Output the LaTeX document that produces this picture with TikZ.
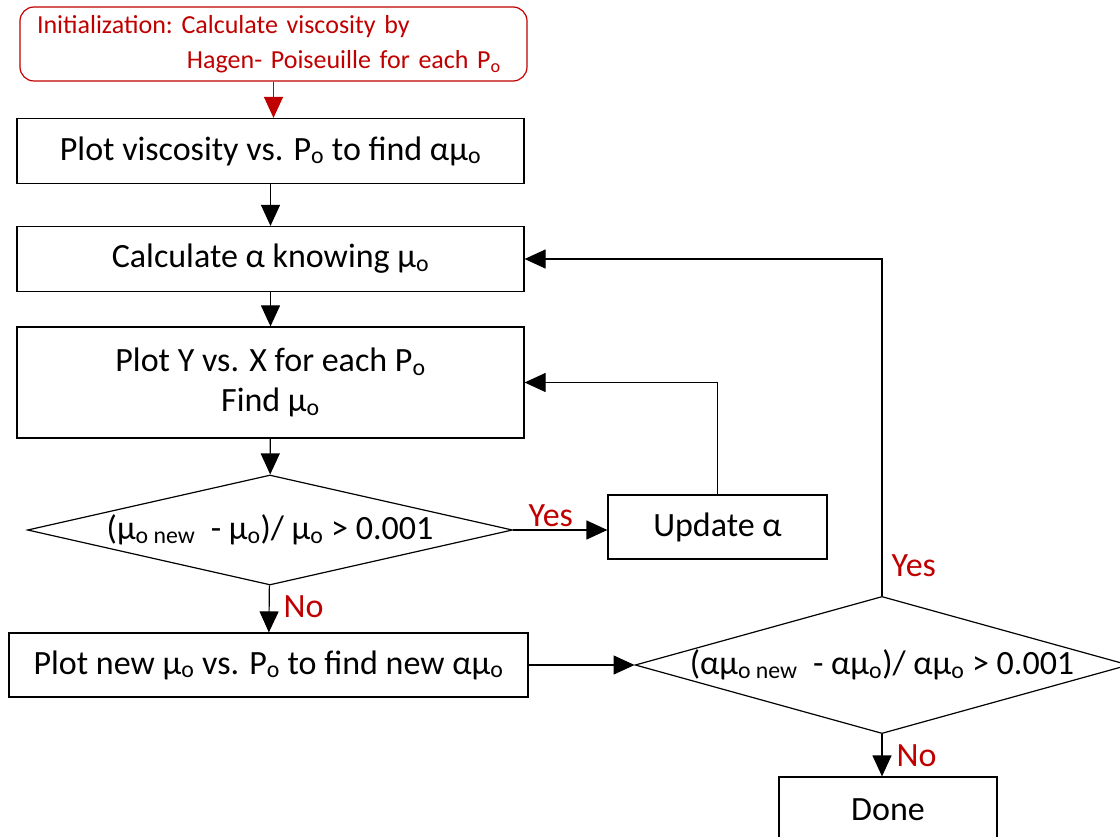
\documentclass[tikz,border=0pt]{standalone}
\usepackage{fontspec}
\setmainfont{Carlito}
\usetikzlibrary{arrows.meta,positioning,shapes.geometric}
\tikzset{>={Triangle[length=21pt,width=19pt]}}
\definecolor{flowred}{RGB}{192,0,0}

\begin{document}
\begin{tikzpicture}[x=1pt, y=-1pt, line width=1.2pt,
    box/.style={draw, align=center, inner sep=0pt, minimum width=507pt, minimum height=65pt,
      font=\fontsize{34}{40}\selectfont},
    initbox/.style={draw=flowred, text=flowred, rounded corners=14pt, align=left,
      text width=473pt, inner xsep=17pt, inner ysep=0pt, minimum height=74pt,
      font=\fontsize{26}{35}\selectfont\frenchspacing},
    decision/.style={draw, diamond, inner sep=0pt, font=\fontsize{34}{40}\selectfont},
    lbl/.style={text=flowred, font=\fontsize{34}{38}\selectfont}
  ]
    \useasboundingbox (0,0) rectangle (1120,837);

    % main column
    \node[initbox] (init) at (273.5,44) {Initialization: Calculate viscosity by\\
      \hspace*{150pt}\mbox{Hagen- Poiseuille for each P\textsubscript{o}}};
    \node[box] (plot) at (270.5,151) {Plot viscosity vs. P\textsubscript{o} to find αμ\textsubscript{o}};
    \node[box] (calc) at (270.5,259) {Calculate α knowing μ\textsubscript{o}};
    \node[box, minimum height=111pt] (fit) at (270.5,382.5) {Plot Y vs. X for each P\textsubscript{o}\\ Find μ\textsubscript{o}};
    \node[decision, aspect=4.4, minimum width=485pt, minimum height=110pt] (check) at (270,530)
      {(μ\textsubscript{o new} \ - μ\textsubscript{o})/ μ\textsubscript{o} > 0.001};
    \node[box, minimum width=219pt, minimum height=64pt] (update) at (717.5,527) {Update α};
    \node[box, minimum width=519pt, minimum height=64pt] (replot) at (268.5,665)
      {Plot new μ\textsubscript{o} vs. P\textsubscript{o} to find new αμ\textsubscript{o}};
    \node[decision, aspect=3.6, minimum width=488pt, minimum height=134pt] (final) at (882,665)
      {(αμ\textsubscript{o new} \ - αμ\textsubscript{o})/ αμ\textsubscript{o} > 0.001};
    \node[box, minimum width=218pt, minimum height=66pt] (done) at (888,810) {Done};

    % connectors
    \draw[->, draw=flowred, fill=flowred] (init) -- (init |- plot.north);
    \draw[->] (plot) -- (calc);
    \draw[->] (calc) -- (fit);
    \draw[->] (fit) -- (check);
    \draw[->] (check.east) -- node[lbl, above, pos=0.4, inner ysep=3pt] {Yes} (check.east -| update.west);
    \draw[->] (update.north) |- (fit.east);
    \draw[->] (check) -- node[lbl, right, inner xsep=14pt, yshift=2pt] {No} (replot);
    \draw[->] (replot.east) -- (final.west);
    \draw[->] (final.north) |- node[lbl, right, pos=0.045, inner xsep=9pt] {Yes} (calc.east);
    \draw[->] (final.south) -- node[lbl, right, inner xsep=14pt] {No} (final.south |- done.north);
  \end{tikzpicture}
\end{document}
